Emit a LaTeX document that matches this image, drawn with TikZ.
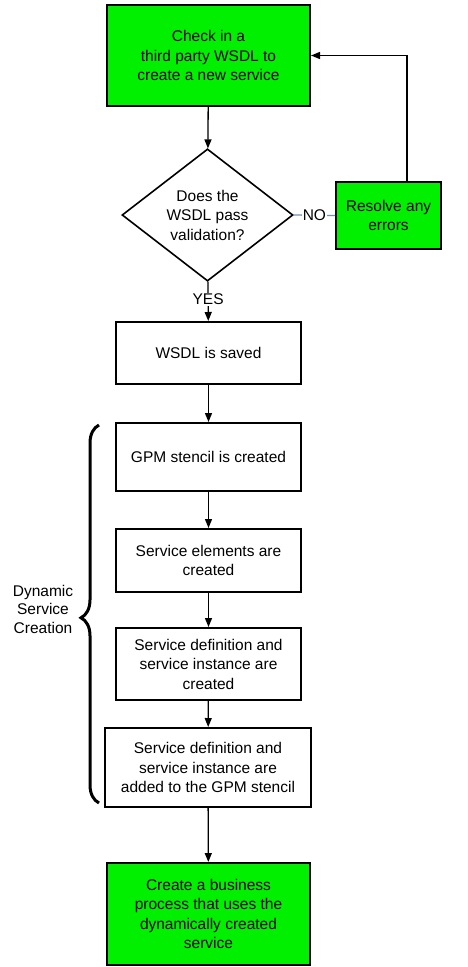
\documentclass[tikz,border=0pt]{standalone}
\usepackage{fontspec}
\setmainfont{Liberation Sans}
\usetikzlibrary{shapes.geometric,arrows.meta,decorations.pathreplacing}
\definecolor{boxgreen}{RGB}{0,240,0}
\definecolor{noline}{RGB}{110,145,175}
\tikzset{
  base/.style={draw=black, line width=2pt, align=center, inner sep=2pt,
    font=\fontsize{15.5}{19.5}\selectfont},
  greenbox/.style={base, rectangle, fill=boxgreen},
  whitebox/.style={base, rectangle, fill=white},
  decision/.style={base, diamond, fill=white, inner sep=0pt, line width=1.6pt},
  conn/.style={draw=black, line width=1.3pt, -{Triangle[length=9pt,width=7pt]}},
  lbl/.style={fill=white, text=black, inner sep=1pt, font=\fontsize{15.5}{19.5}\selectfont},
}
\begin{document}
\begin{tikzpicture}[x=1pt,y=-1pt]
\useasboundingbox (0,0) rectangle (468,967);

\node[greenbox, minimum width=203pt, minimum height=101pt] (check) at (208.5,55.5)
  {Check in a\\third party WSDL to\\create a new service};
\node[decision, minimum width=171pt, minimum height=116pt] (valid) at (207.5,215)
  {Does the\\WSDL pass\\validation?};
\node[greenbox, minimum width=105pt, minimum height=67pt] (resolve) at (388.5,215.5)
  {Resolve any\\errors};
\node[whitebox, minimum width=185pt, minimum height=62pt] (saved) at (208.5,353)
  {WSDL is saved};
\node[whitebox, minimum width=185pt, minimum height=68pt] (gpm) at (208.5,457)
  {GPM stencil is created};
\node[whitebox, minimum width=185pt, minimum height=63pt] (elem) at (208.5,560.5)
  {Service elements are\\created};
\node[whitebox, minimum width=185pt, minimum height=72pt] (def) at (208.5,664)
  {Service definition and\\service instance are\\created};
\node[whitebox, minimum width=206pt, minimum height=79pt] (added) at (208,767.5)
  {Service definition and\\service instance are\\added to the GPM stencil};
\node[greenbox, minimum width=203pt, minimum height=102pt] (final) at (208.5,914)
  {Create a business\\process that uses the\\dynamically created\\service};

\coordinate (fb) at (407,55);
\coordinate (btop) at (99,425);
\coordinate (bbot) at (99,803);

\draw[conn] (check) -- (valid);
\draw[conn] (valid) -- node[lbl, pos=0.45] {YES} (saved);
\draw[noline, line width=1.3pt] (valid.east) -- node[lbl] {NO} (resolve.west);
\draw[conn] (resolve.north -| fb) |- (check.east);
\draw[conn] (saved) -- (gpm);
\draw[conn] (gpm) -- (elem);
\draw[conn] (elem) -- (def);
\draw[conn] (def) -- (added);
\draw[conn] (added) -- (final);

\draw[line width=3pt, decorate, decoration={brace, amplitude=18pt, aspect=0.49}]
  (bbot) -- (btop);
\node[align=center, font=\fontsize{15.5}{18.5}\selectfont] (dsc) at (43,609)
  {Dynamic\\Service\\Creation};
\end{tikzpicture}
\end{document}
